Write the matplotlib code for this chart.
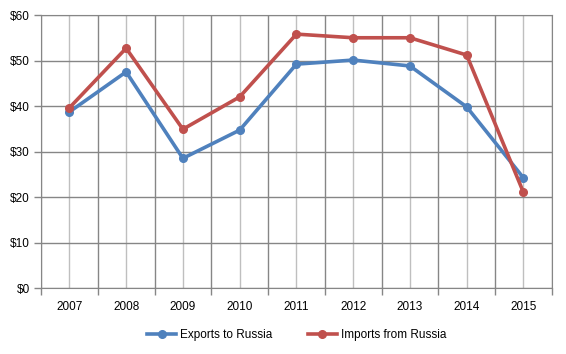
import matplotlib.pyplot as plt
import numpy as np

years = ['2007', '2008', '2009', '2010', '2011', '2012', '2013', '2014', '2015']
exports = [38.7, 47.5, 28.5, 34.7, 49.2, 50.1, 48.8, 39.8, 24.2]
imports = [39.6, 52.7, 34.9, 42.0, 55.8, 55.0, 55.0, 51.2, 21.0]
yticks = [0, 10, 20, 30, 40, 50, 60]

plt.rcParams['font.family'] = ['Liberation Sans', 'DejaVu Sans']

fig = plt.figure(figsize=(5.66, 3.54), dpi=100)
ax = fig.add_axes([0.0724, 0.1864, 0.9026, 0.7712])

x = np.arange(len(years))
ax.plot(x, exports, color='#4F81BD', lw=2.6, marker='o', ms=5.5, label='Exports to Russia', zorder=3)
ax.plot(x, imports, color='#C0504D', lw=2.6, marker='o', ms=5.5, label='Imports from Russia', zorder=3)

ax.set_xlim(-0.5, len(years) - 0.5)
ax.set_ylim(0, 60)
ax.set_yticks(yticks)
ax.set_yticklabels(['$%d' % v for v in yticks])

# category boundaries carry the ticks, centres carry the labels
ax.set_xticks(np.arange(-0.5, len(years), 1.0))
ax.set_xticklabels([])
ax.set_xticks(x, minor=True)
ax.set_xticklabels(years, minor=True)
ax.tick_params(axis='x', which='major', length=5, color='#868686', width=1)
ax.tick_params(axis='x', which='minor', length=0, pad=9, labelsize=8.5)
ax.tick_params(axis='y', length=5, color='#868686', width=1, labelsize=8.5, pad=3)

ax.grid(axis='x', which='major', color='#868686', lw=1)
ax.grid(axis='x', which='minor', color='#BFBFBF', lw=1)
ax.grid(axis='y', color='#868686', lw=1)
ax.set_axisbelow(True)
for s in ax.spines.values():
    s.set_color('#868686')

ax.legend(loc='upper center', bbox_to_anchor=(0.5, -0.11), ncol=2, frameon=False,
          fontsize=8.5, handlelength=2.5, columnspacing=3, handletextpad=0.3)

fig.savefig('out.png', dpi=100)
